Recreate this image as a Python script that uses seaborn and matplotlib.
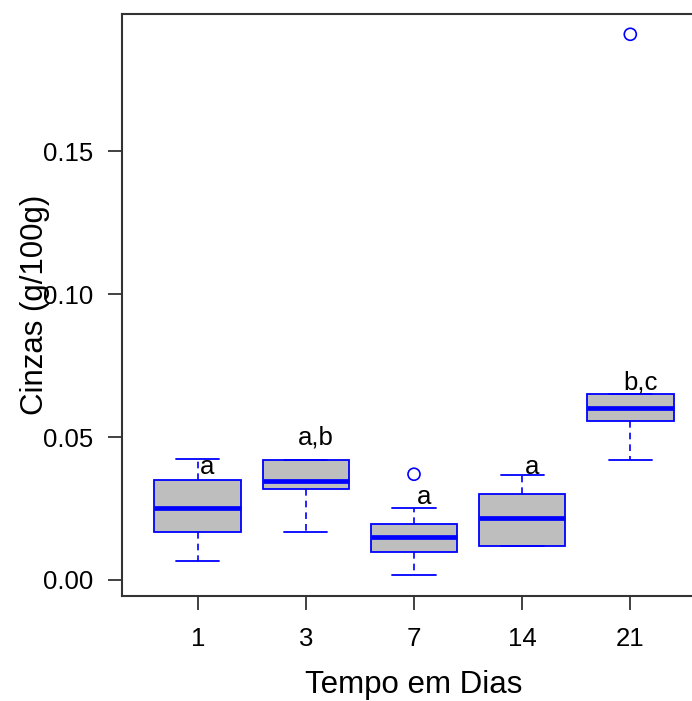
import matplotlib
matplotlib.use("Agg")
import matplotlib.pyplot as plt
import seaborn as sns
import numpy as np

# ---- data ----
days = ["1", "3", "7", "14", "21"]
whisker_low = [0.0066, 0.0168, 0.0019, 0.0119, 0.0420]
q1 = [0.0168, 0.0318, 0.0099, 0.0119, 0.0555]
median = [0.0252, 0.0346, 0.0150, 0.0216, 0.0601]
q3 = [0.0350, 0.0420, 0.0197, 0.0300, 0.0649]
whisker_high = [0.0423, 0.0420, 0.0251, 0.0368, 0.0649]
outlier_day = ["7", "21"]
outlier_val = [0.0370, 0.1909]
letters = ["a", "a,b", "a", "a", "b,c"]
letter_y = [0.0396, 0.0497, 0.0290, 0.0396, 0.0690]

sns.set_theme(style="white")
plt.rcParams["font.family"] = ["Liberation Sans", "DejaVu Sans"]
plt.rcParams["text.color"] = "black"
plt.rcParams["axes.labelcolor"] = "black"
plt.rcParams["xtick.color"] = "black"
plt.rcParams["ytick.color"] = "black"

fig = plt.figure(figsize=(6.92, 7.01), dpi=100)
ax = fig.add_axes([122 / 692, 1 - 596 / 701, (706 - 122) / 692, (596 - 14) / 701])

blue = "#0000FF"
stats = []
for i, d in enumerate(days):
    stats.append(dict(whislo=whisker_low[i], q1=q1[i], med=median[i], q3=q3[i],
                      whishi=whisker_high[i], fliers=[], label=d))
pos = np.arange(len(days))
ax.bxp(stats, positions=pos, widths=0.8, patch_artist=True, showfliers=False,
       boxprops=dict(facecolor="#BEBEBE", edgecolor=blue, linewidth=1.3),
       medianprops=dict(color=blue, linewidth=3.4, solid_capstyle="butt"),
       whiskerprops=dict(color=blue, linewidth=1.2, linestyle=(0, (4, 3))),
       capprops=dict(color=blue, linewidth=1.3), capwidths=0.4)

opos = [days.index(d) for d in outlier_day]
sns.scatterplot(x=opos, y=outlier_val, ax=ax, marker="o", s=75,
                facecolor="none", edgecolor=blue, linewidth=1.2, zorder=5)

for i, (t, yv) in enumerate(zip(letters, letter_y)):
    ax.text(i + 0.09, yv, t, ha="center", va="center", fontsize=18.5, color="black")

ax.set_xlim(-0.7, 4.7)
ax.set_ylim(-0.0056, 0.198)
ax.set_xticks(pos)
ax.set_xticklabels(days)
ax.set_yticks([0.0, 0.05, 0.10, 0.15])
ax.set_yticklabels(["0.00", "0.05", "0.10", "0.15"])
ax.tick_params(axis="both", which="major", labelsize=18.5, length=10, width=1.3,
               color="#333333", labelcolor="black", direction="out",
               bottom=True, left=True)
ax.tick_params(axis="y", pad=11)
ax.tick_params(axis="x", pad=12)
for s in ax.spines.values():
    s.set_color("#333333")
    s.set_linewidth(1.5)
    s.set_visible(True)

ax.set_xlabel("Tempo em Dias", fontsize=22.5, labelpad=14)
ax.set_ylabel("Cinzas (g/100g)", fontsize=22.5)
ax.yaxis.set_label_coords(-0.124, 0.5)

fig.savefig("out.png", dpi=100)
